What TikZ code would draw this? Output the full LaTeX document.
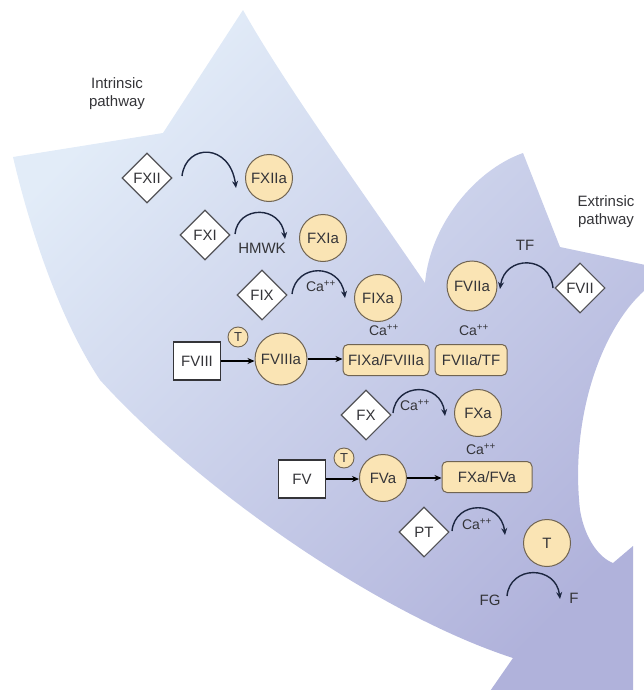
\documentclass[tikz,border=0pt]{standalone}
\usepackage{fontspec}
\setmainfont{Liberation Sans}
\usetikzlibrary{arrows.meta,shapes.geometric}

\definecolor{bandlight}{RGB}{226,236,248}
\definecolor{bandmid}{RGB}{202,210,237}
\definecolor{banddark}{RGB}{176,178,219}
\definecolor{factan}{RGB}{250,228,180}
\definecolor{tanedge}{RGB}{112,100,82}
\definecolor{ink}{RGB}{52,52,56}
\definecolor{navy}{RGB}{28,38,64}

\begin{document}
\begin{tikzpicture}[x=1pt,y=-1pt,
  lbl/.style={font=\fontsize{15}{18}\selectfont, text=ink, inner sep=0pt},
  calbl/.style={font=\fontsize{14}{16}\selectfont, text=ink, inner sep=0pt},
  zymogen/.style={diamond, draw=ink!85, fill=white, line width=1.1pt,
    minimum width=50pt, minimum height=50pt, inner sep=0pt,
    font=\fontsize{15}{17}\selectfont, text=ink},
  enzyme/.style={circle, draw=tanedge, fill=factan, line width=1pt,
    minimum size=47pt, inner sep=0pt, font=\fontsize{15}{17}\selectfont, text=ink},
  cofactor/.style={rectangle, draw=ink, fill=white, line width=1.1pt,
    minimum width=47pt, minimum height=38pt, inner sep=0pt,
    font=\fontsize{15}{17}\selectfont, text=ink},
  complex/.style={rectangle, rounded corners=5pt, draw=tanedge, fill=factan,
    line width=1pt, minimum height=31pt, inner sep=3pt,
    font=\fontsize{15}{17}\selectfont, text=ink},
  thrombin/.style={circle, draw=tanedge, fill=factan, line width=0.9pt,
    minimum size=20pt, inner sep=0pt, font=\fontsize{13}{15}\selectfont, text=ink},
  activ/.style={draw=navy, line width=1.4pt, -{Stealth[length=7pt,width=6pt]}},
  conv/.style={draw=black, line width=1.8pt, -{Stealth[length=7pt,width=6pt]}},
]
\useasboundingbox (0,0) rectangle (644,690);

% the two merging pathway arrows
\begin{scope}
  \clip (0,0) rectangle (644,690);
  \shade[top color=bandlight, middle color=bandmid, bottom color=banddark, shading angle=45]
    (13,157) -- (163,133) -- (243,10)
    .. controls (285,85) and (365,195) .. (425,283)
    .. controls (430,225) and (475,170) .. (523,153)
    -- (560,247) -- (655,267) -- (645,290)
    .. controls (600,330) and (570,420) .. (580,510)
    .. controls (585,540) and (600,558) .. (613,563)
    -- (633,546) -- (633,720) -- (470,720) -- (513,658)
    .. controls (380,615) and (200,490) .. (100,380)
    .. controls (60,320) and (30,230) .. cycle;
\end{scope}

% pathway titles
\node[lbl, align=center] (intr) at (117,94) {Intrinsic\\pathway};
\node[lbl, align=center] (extr) at (606,212) {Extrinsic\\pathway};

% zymogens
\node[zymogen] (FXII) at (147,178) {FXII};
\node[zymogen] (FXI)  at (205,235) {FXI};
\node[zymogen] (FIX)  at (262,295) {FIX};
\node[zymogen] (FX)   at (366,415) {FX};
\node[zymogen] (PT)   at (424,532) {PT};
\node[zymogen] (FVII) at (580,288) {FVII};

% activated factors
\node[enzyme] (FXIIa) at (269,178) {FXIIa};
\node[enzyme] (FXIa)  at (323,238) {FXIa};
\node[enzyme] (FIXa)  at (378,298) {FIXa};
\node[enzyme, minimum size=50pt] (FVIIa) at (472,286) {FVIIa};
\node[enzyme, minimum size=52pt] (FVIIIa) at (281,359) {FVIIIa};
\node[enzyme] (FXa)   at (478,413) {FXa};
\node[enzyme] (FVa)   at (383,478) {FVa};
\node[enzyme] (T)     at (547,543) {T};

% cofactors
\node[cofactor] (FVIII) at (197,361) {FVIII};
\node[cofactor] (FV)    at (302,479) {FV};

% thrombin feedback marks
\node[thrombin] (T1) at (238,337) {T};
\node[thrombin] (T2) at (344,458) {T};

% complexes
\node[complex, minimum width=86pt] (tenase)  at (386,360) {FIXa/FVIIIa};
\node[complex, minimum width=72pt] (extcplx) at (471,360) {FVIIa/TF};
\node[complex, minimum width=90pt] (prothr)  at (487,477) {FXa/FVa};

% cofactor conversions
\draw[conv] (FVIII.east) -- (FVIII.east -| FVIIIa.west);
\draw[conv] (FVIIIa.east) -- (FVIIIa.east -| tenase.west);
\draw[conv] (FV.east) -- (FV.east -| FVa.west);
\draw[conv] (FVa.east) -- (FVa.east -| prothr.west);

% activation arcs
\coordinate (a1s) at (182,176); \coordinate (a1e) at (236,188);
\coordinate (a2s) at (235,234); \coordinate (a2e) at (285,239);
\coordinate (a3s) at (292,294); \coordinate (a3e) at (345,298);
\coordinate (a4s) at (553,288); \coordinate (a4e) at (500,289);
\coordinate (a5s) at (393,413); \coordinate (a5e) at (445,416);
\coordinate (a6s) at (452,531); \coordinate (a6e) at (505,535);
\coordinate (a7s) at (507,596); \coordinate (a7e) at (560,599);

\draw[activ] (a1s) .. controls (186,143) and (230,143) .. (a1e);
\draw[activ] (a2s) .. controls (238,205) and (281,205) .. (a2e);
\draw[activ] (a3s) .. controls (296,263) and (340,263) .. (a3e);
\draw[activ] (a4s) .. controls (550,255) and (505,255) .. (a4e);
\draw[activ] (a5s) .. controls (396,382) and (441,382) .. (a5e);
\draw[activ] (a6s) .. controls (455,500) and (501,500) .. (a6e);
\draw[activ] (a7s) .. controls (510,565) and (556,565) .. (a7e);

% arc and complex labels
\node[lbl] (hmwk) at (262,248) {HMWK};
\node[lbl] (tf)   at (525,245) {TF};
\node[calbl] (ca1) at (321,286) {Ca\textsuperscript{++}};
\node[calbl] (ca2) at (415,405) {Ca\textsuperscript{++}};
\node[calbl] (ca3) at (477,524) {Ca\textsuperscript{++}};
\node[calbl] (ca4) at (384,330) {Ca\textsuperscript{++}};
\node[calbl] (ca5) at (474,330) {Ca\textsuperscript{++}};
\node[calbl] (ca6) at (481,449) {Ca\textsuperscript{++}};
\node[lbl] (FG) at (490,600) {FG};
\node[lbl] (F)  at (574,598) {F};
\end{tikzpicture}
\end{document}
